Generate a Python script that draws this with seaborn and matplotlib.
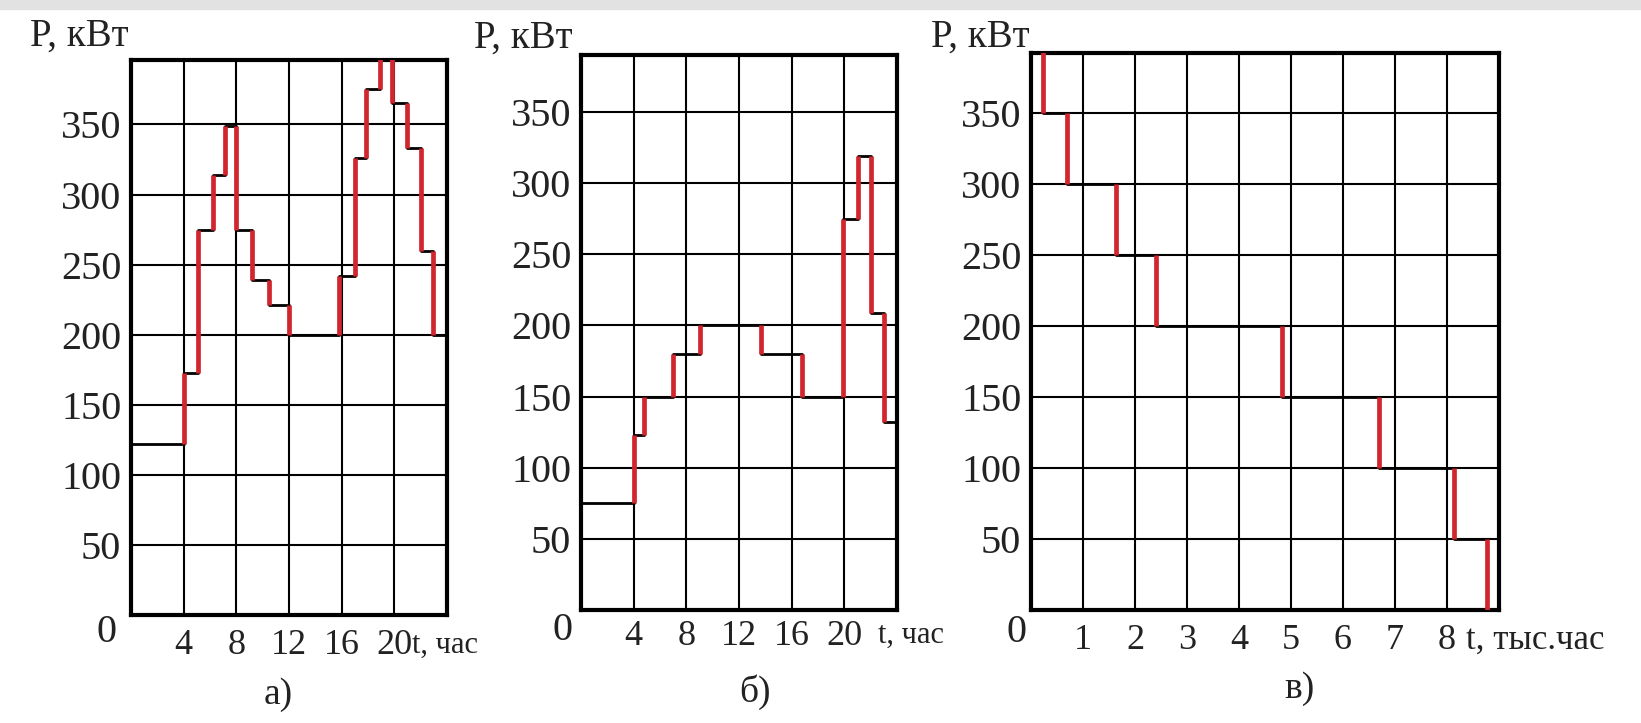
import numpy as np
import pandas as pd
import matplotlib
matplotlib.use("Agg")
import matplotlib.pyplot as plt
from matplotlib.patches import Rectangle
import seaborn as sns

# ---------------- data ----------------
# a) daily load graph (hours, kW)
a_hours = [0, 4, 5.1, 6.2, 7.15, 8, 9.2, 10.5, 12, 15.8, 17, 17.85, 18.9, 19.8, 20.95, 22, 22.95, 24]
a_power = [122, 173, 275, 314, 349, 275, 239, 221, 200, 242, 326, 375, 400, 365, 333, 260, 200, 200]

# b) daily load graph (hours, kW)
b_hours = [0, 4, 4.8, 7, 9, 13.7, 16.8, 19.9, 21, 22, 23, 24]
b_power = [75, 123, 150, 180, 200, 180, 150, 275, 319, 209, 132, 132]

# c) annual load duration graph (thousand hours, kW)
c_hours = [0, 0.23, 0.7, 1.64, 2.41, 4.83, 6.7, 8.14, 8.76]
c_power = [400, 350, 300, 250, 200, 150, 100, 50, 0]

y_ticks = [50, 100, 150, 200, 250, 300, 350]
day_ticks = [4, 8, 12, 16, 20]
year_ticks = [1, 2, 3, 4, 5, 6, 7, 8]

y_label = "P, кВт"
day_xlabel = "t, час"
year_xlabel = "t, тыс.час"
panel_letters = ["а)", "б)", "в)"]

# ---------------- style ----------------
sns.set_theme(style="white")
plt.rcParams["font.family"] = ["Liberation Serif", "DejaVu Serif"]
RED = "#d1262e"
FS = 26
FS_Y = 29

W, H = 1641, 723
fig = plt.figure(figsize=(W / 100, H / 100), dpi=100)
fig.patch.set_facecolor("white")
fig.add_artist(Rectangle((0, 1 - 9 / H), 1, 9 / H, transform=fig.transFigure,
                         color="#e2e2e2", zorder=0))


def px_axes(l, t, r, b):
    return fig.add_axes([l / W, 1 - b / H, (r - l) / W, (b - t) / H])


def draw(ax, hours, power, xmax, ymax, xticks, xpad):
    df = pd.DataFrame({"t": hours, "p": power})
    sns.lineplot(data=df, x="t", y="p", drawstyle="steps-post", color="black",
                 lw=2.0, ax=ax, zorder=3)
    t = np.asarray(hours, dtype=float)
    p = np.asarray(power, dtype=float)
    idx = np.nonzero(p[1:] != p[:-1])[0] + 1
    ax.vlines(t[idx], p[idx - 1], p[idx], colors=RED, lw=3.4, zorder=4)
    ax.set_xlim(0, xmax)
    ax.set_ylim(0, ymax)
    ax.set_xticks(xticks)
    ax.set_yticks(y_ticks)
    ax.set_xticklabels([str(v) for v in xticks])
    ax.set_yticklabels([str(v) for v in y_ticks])
    ax.set_axisbelow(True)
    ax.grid(True, color="black", lw=1.5)
    ax.tick_params(axis="both", length=0, colors="#222222")
    ax.tick_params(axis="x", pad=xpad, labelsize=FS)
    ax.tick_params(axis="y", pad=7, labelsize=FS_Y)
    for s in ax.spines.values():
        s.set_color("black")
        s.set_linewidth(3.0)
        s.set_visible(True)
    ax.set_xlabel("")
    ax.set_ylabel("")
    ax.set_facecolor("white")


ax_a = px_axes(131, 60, 447, 615)
ax_b = px_axes(581, 55, 897, 610)
ax_c = px_axes(1031, 53, 1499, 610)

draw(ax_a, a_hours, a_power, 24, 396, day_ticks, 10)
draw(ax_b, b_hours, b_power, 24, 390, day_ticks, 7)
draw(ax_c, c_hours, c_power, 9, 392, year_ticks, 10)


def ftext(x, y, s, **kw):
    kw.setdefault("fontsize", FS)
    kw.setdefault("color", "#222222")
    fig.text(x / W, 1 - y / H, s, **kw)


# y-axis titles
ftext(129, 36, y_label, ha="right", va="center", fontsize=28)
ftext(573, 38, y_label, ha="right", va="center", fontsize=28)
ftext(1030, 37, y_label, ha="right", va="center", fontsize=28)

# origin labels
ftext(107, 633, "0", ha="center", va="center", fontsize=FS_Y)
ftext(562, 630, "0", ha="center", va="center", fontsize=FS_Y)
ftext(1017, 633, "0", ha="center", va="center", fontsize=FS_Y)

# x-axis titles
ftext(412, 645, day_xlabel, ha="left", va="center", fontsize=22)
ftext(878, 635, day_xlabel, ha="left", va="center", fontsize=22)
ftext(1466, 640, year_xlabel, ha="left", va="center", fontsize=25)

# panel letters
ftext(278, 695, panel_letters[0], ha="center", va="center", fontsize=27)
ftext(755, 692, panel_letters[1], ha="center", va="center", fontsize=27)
ftext(1299, 689, panel_letters[2], ha="center", va="center", fontsize=27)

fig.savefig("out.png", dpi=100, facecolor="white")
